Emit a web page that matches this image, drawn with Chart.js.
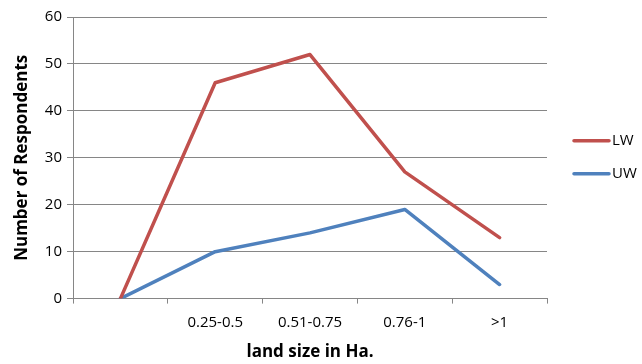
<!DOCTYPE html>
<html>
<head>
<meta charset="utf-8">
<script src="https://cdn.jsdelivr.net/npm/chart.js@4/dist/chart.umd.min.js"></script>
<style>
html,body{margin:0;padding:0;background:#fff;}
#wrap{width:642px;height:364px;position:relative;}
</style>
</head>
<body>
<div id="wrap"><canvas id="c" width="642" height="364"></canvas></div>
<script>
const categories = ['', '0.25-0.5', '0.51-0.75', '0.76-1', '>1'];
const lwValues = [0, 46, 52, 27, 13];
const uwValues = [0, 10, 14, 19, 3];
const seriesNames = ['LW', 'UW'];
const yTicks = [0, 10, 20, 30, 40, 50, 60];
const xTitle = 'land size in Ha.';
const yTitle = 'Number of Respondents';

const FONT = "'Open Sans', 'DejaVu Sans', sans-serif";
const GRID = '#868686';

const legendPlugin = {
  id: 'sideLegend',
  afterDraw(chart) {
    const ctx = chart.ctx;
    const a = chart.chartArea;
    const mid = (a.top + a.bottom) / 2;
    const ys = [mid - 17, mid + 16];
    ctx.save();
    chart.data.datasets.forEach((ds, i) => {
      const y = ys[i];
      ctx.strokeStyle = ds.borderColor;
      ctx.lineWidth = 3.5;
      ctx.lineCap = 'round';
      ctx.beginPath();
      ctx.moveTo(a.right + 27, y);
      ctx.lineTo(a.right + 62, y);
      ctx.stroke();
      ctx.fillStyle = '#000';
      ctx.font = "15px " + FONT;
      ctx.textBaseline = 'middle';
      ctx.textAlign = 'left';
      ctx.fillText(ds.label, a.right + 65, y);
    });
    ctx.restore();
  }
};

new Chart(document.getElementById('c'), {
  type: 'line',
  data: {
    labels: categories,
    datasets: [
      { label: seriesNames[0], data: lwValues, borderColor: '#C0504D', backgroundColor: '#C0504D',
        borderWidth: 3.5, pointRadius: 0, tension: 0, borderCapStyle: 'round', borderJoinStyle: 'round' },
      { label: seriesNames[1], data: uwValues, borderColor: '#4F81BD', backgroundColor: '#4F81BD',
        borderWidth: 3.5, pointRadius: 0, tension: 0, borderCapStyle: 'round', borderJoinStyle: 'round' }
    ]
  },
  options: {
    responsive: false,
    animation: false,
    events: [],
    layout: { padding: { left: 8, right: 95, top: 17, bottom: 2 } },
    plugins: { legend: { display: false }, tooltip: { enabled: false } },
    scales: {
      x: {
        offset: true,
        grid: { offset: true, drawOnChartArea: false, drawTicks: true, tickLength: 5, color: GRID },
        border: { color: GRID, width: 1 },
        ticks: { color: '#000', font: { family: FONT, size: 15 }, padding: 10, maxRotation: 0 },
        title: { display: true, text: xTitle, color: '#000', font: { family: FONT, size: 17, weight: 'bold' }, padding: { top: 0, bottom: 0 } }
      },
      y: {
        min: 0, max: 60,
        afterBuildTicks(s) { s.ticks = yTicks.map(v => ({ value: v })); },
        afterFit(s) { s.width = 65; },
        grid: { color: GRID, tickLength: 6 },
        border: { color: GRID, width: 1 },
        ticks: { color: '#000', font: { family: FONT, size: 15 }, padding: 5 },
        title: { display: true, text: yTitle, color: '#000', font: { family: FONT, size: 17, weight: 'bold' }, padding: { top: 4, bottom: 4 } }
      }
    }
  },
  plugins: [legendPlugin]
});
</script>
</body>
</html>
